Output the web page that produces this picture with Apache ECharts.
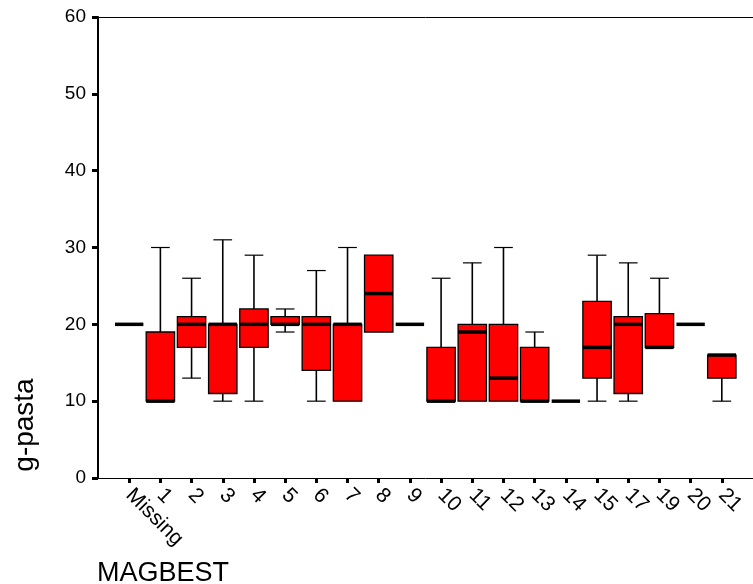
<!DOCTYPE html>
<html>
<head>
<meta charset="utf-8">
<script src="https://cdn.jsdelivr.net/npm/echarts@6/dist/echarts.min.js"></script>
<style>
    html, body { margin: 0; padding: 0; background: #fff; }
    #chart { width: 753px; height: 584px; }
</style>
</head>
<body>
<div id="chart"></div>
<script>
// categories of MAGBEST, and the box statistics
const categories = ['Missing', '1', '2', '3', '4', '5', '6', '7', '8', '9', '10',
    '11', '12', '13', '14', '15', '17', '19', '20', '21'];
const minVals = [20, 10, 13, 10, 10, 19, 10, 10, 19, 20, 10, 10, 10, 10, 10, 10, 10, 17, 20, 10];
const q1Vals  = [20, 10, 17, 11, 17, 20, 14, 10, 19, 20, 10, 10, 10, 10, 10, 13, 11, 17, 20, 13];
const medVals = [20, 10, 20, 20, 20, 20, 20, 20, 24, 20, 10, 19, 13, 10, 10, 17, 20, 17, 20, 16];
const q3Vals  = [20, 19, 21, 20, 22, 21, 21, 20, 29, 20, 17, 20, 20, 17, 10, 23, 21, 21.4, 20, 16];
const maxVals = [20, 30, 26, 31, 29, 22, 27, 30, 29, 20, 26, 28, 30, 19, 10, 29, 28, 26, 20, 16];
const yMin = 0, yMax = 60, yStep = 10;

const font = 'Arial, "Liberation Sans", sans-serif';
// blank slot on each side so the first/last category sit one step in from the edges
const axisCats = [''].concat(categories, ['']);
const boxData = categories.map((c, i) => [i + 1, minVals[i], q1Vals[i], medVals[i], q3Vals[i], maxVals[i]]);

function renderBox(params, api) {
    const x = api.value(0);
    const lo = api.value(1), q1 = api.value(2), med = api.value(3), q3 = api.value(4), hi = api.value(5);
    const band = api.size([1, 0])[0];
    const half = band * 0.455;
    const cap = band * 0.3;
    const cx = api.coord([x, med])[0];
    const y = v => api.coord([x, v])[1];
    const children = [];
    const line = (x1, y1, x2, y2, w) => ({
        type: 'line',
        shape: { x1: x1, y1: y1, x2: x2, y2: y2 },
        style: { stroke: '#000', lineWidth: w }
    });
    if (hi > q3) {
        children.push(line(cx, y(q3), cx, y(hi), 1.6));
        children.push(line(cx - cap, y(hi), cx + cap, y(hi), 1.2));
    }
    if (lo < q1) {
        children.push(line(cx, y(q1), cx, y(lo), 1.6));
        children.push(line(cx - cap, y(lo), cx + cap, y(lo), 1.2));
    }
    if (q3 > q1) {
        children.push({
            type: 'rect',
            shape: { x: cx - half, y: y(q3), width: half * 2, height: y(q1) - y(q3) },
            style: { fill: '#ff0000', stroke: '#000', lineWidth: 1.3 }
        });
    }
    children.push(line(cx - half, y(med), cx + half, y(med), 3.5));
    return { type: 'group', children: children };
}

const myChart = echarts.init(document.getElementById('chart'));
const option = {
    animation: false,
    backgroundColor: '#fff',
    grid: { left: 98, right: 0, top: 17, bottom: 106 },
    xAxis: [
        {
            type: 'category',
            data: axisCats,
            boundaryGap: false,
            axisLine: { lineStyle: { color: '#000', width: 1 } },
            axisTick: {
                length: 5,
                interval: (i, v) => v !== '',
                lineStyle: { color: '#000', width: 3 }
            },
            axisLabel: {
                interval: (i, v) => v !== '',
                rotate: -45,
                margin: 14,
                color: '#000',
                fontSize: 21,
                fontFamily: font
            },
            splitLine: { show: false }
        },
        {
            // top frame line
            type: 'category',
            data: axisCats,
            boundaryGap: false,
            position: 'top',
            axisLine: { lineStyle: { color: '#000', width: 1 } },
            axisTick: { show: false },
            axisLabel: { show: false },
            splitLine: { show: false }
        }
    ],
    yAxis: {
        type: 'value',
        min: yMin,
        max: yMax,
        interval: yStep,
        axisLine: { show: true, lineStyle: { color: '#000', width: 2 } },
        axisTick: { show: true, length: 6, lineStyle: { color: '#000', width: 3 } },
        axisLabel: { margin: 12, color: '#000', fontSize: 19, fontFamily: font },
        splitLine: { show: false }
    },
    graphic: [
        {
            type: 'text',
            x: 25,
            y: 425,
            rotation: Math.PI / 2,
            style: {
                text: 'g-pasta',
                fill: '#000',
                font: '28px ' + font,
                textAlign: 'center',
                textVerticalAlign: 'middle'
            }
        },
        {
            type: 'text',
            x: 97,
            y: 574,
            style: {
                text: 'MAGBEST',
                fill: '#000',
                font: '27px ' + font,
                textAlign: 'left',
                textVerticalAlign: 'middle'
            }
        }
    ],
    series: [
        {
            type: 'custom',
            renderItem: renderBox,
            encode: { x: 0, y: [1, 2, 3, 4, 5] },
            data: boxData
        }
    ]
};
myChart.setOption(option);
window.addEventListener('resize', () => {
    myChart.resize();
});
</script>
</body>
</html>
